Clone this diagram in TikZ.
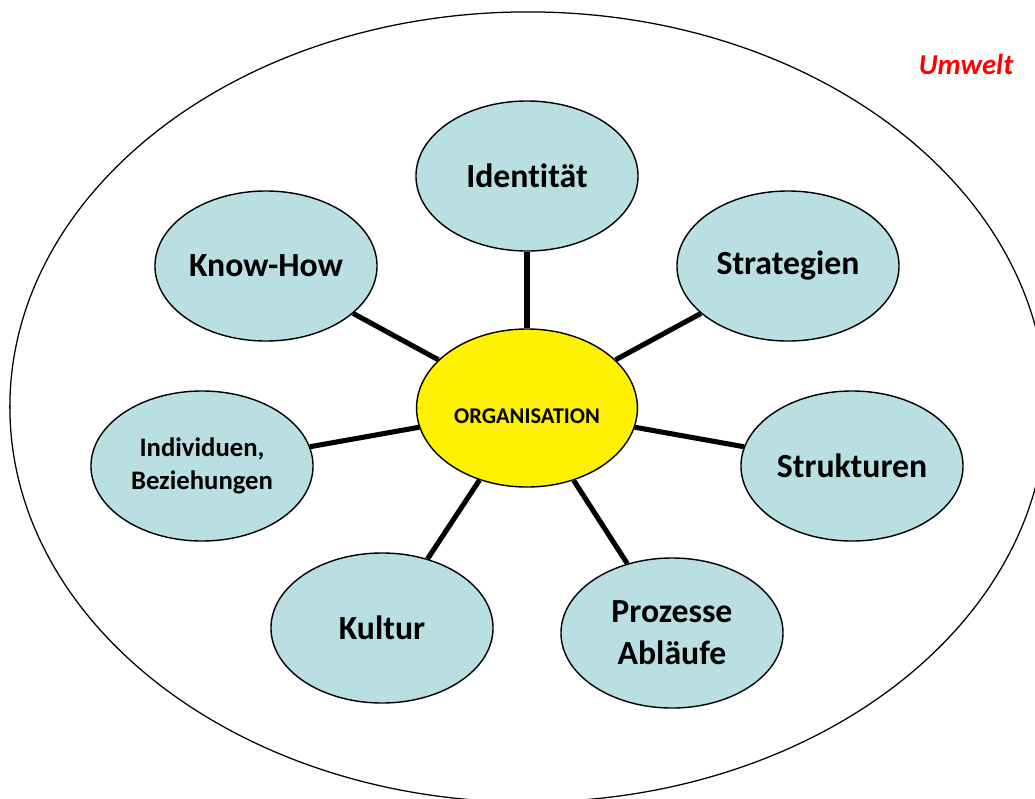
\documentclass[tikz,border=0pt]{standalone}
\usepackage{fontspec}
\setmainfont{Carlito}[Ligatures={CommonOff,ContextualOff}]
\usetikzlibrary{shapes.geometric}
\definecolor{hellblau}{RGB}{185,223,226}
\tikzstyle{feld} = [ellipse, draw, line width=1pt, fill=hellblau, minimum width=5.55cm, minimum height=3.75cm, inner sep=0pt, align=center, font=\fontsize{24}{30}\selectfont\bfseries]
\tikzstyle{kern} = [ellipse, draw, line width=1pt, fill=yellow, minimum width=5.52cm, minimum height=3.95cm, inner sep=0pt, font=\fontsize{16}{19}\selectfont\bfseries]

\begin{document}
\begin{tikzpicture}[x=0.025cm, y=-0.025cm]
    \useasboundingbox (0,0) rectangle (1035,798);
    \clip (0,0) rectangle (1035,798);
    \draw (528,407) node (env) [ellipse, draw, line width=0.9pt, minimum width=25.9cm, minimum height=19.75cm] {};
    \draw (966,64) node (umw) [text=red, font=\fontsize{20.5}{24}\selectfont\bfseries\itshape] {Umwelt};
    \draw (527,408) node[kern] (org) {\raisebox{-6pt}[\height][\depth]{ORGANISATION}};
    \draw (527,176) node[feld] (id) {Ident\kern0pt ität};
    \draw (266,266) node[feld] (kh) {Know-How};
    \draw (788,266) node[feld] (st) {Strategien};
    \draw (202,466) node[feld, font=\fontsize{19}{23}\selectfont\bfseries] (ind) {Individuen,\\Beziehungen};
    \draw (852,466) node[feld] (str) {Strukturen};
    \draw (382,628) node[feld] (ku) {Kultur};
    \draw (672,633) node[feld] (pr) {Prozesse\\Abläufe};
    \draw [line width=3.6pt] (org) -- (id);
    \draw [line width=3.6pt] (org) -- (kh);
    \draw [line width=3.6pt] (org) -- (st);
    \draw [line width=3.6pt] (org) -- (ind);
    \draw [line width=3.6pt] (org) -- (str);
    \draw [line width=3.6pt] (org) -- (ku);
    \draw [line width=3.6pt] (org) -- (pr);
\end{tikzpicture}
\end{document}
